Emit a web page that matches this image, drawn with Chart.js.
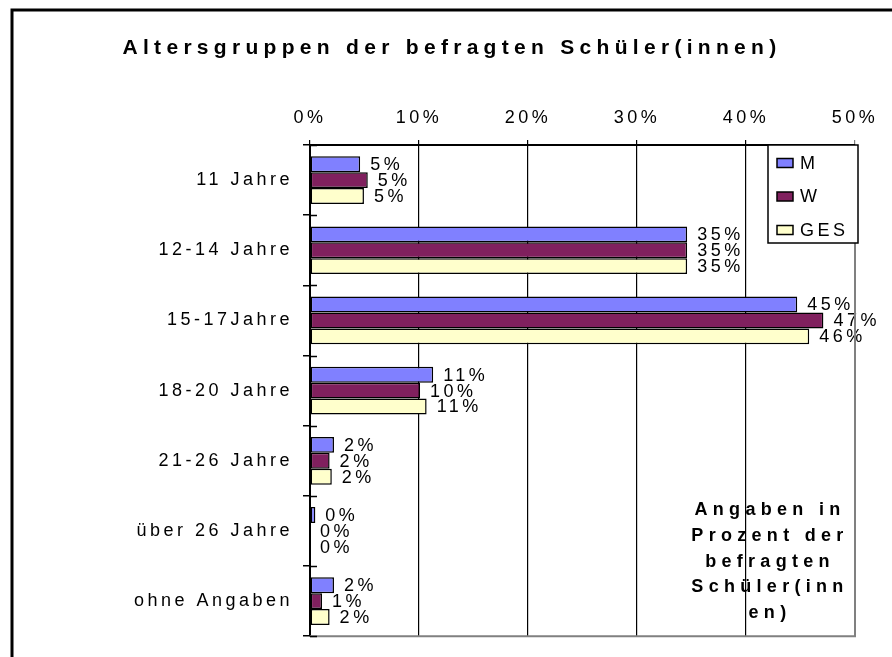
<!DOCTYPE html>
<html><head><meta charset="utf-8">
<script src="https://cdn.jsdelivr.net/npm/chart.js@4.4.1/dist/chart.umd.min.js"></script>
<style>html,body{margin:0;padding:0;background:#fff;overflow:hidden}#wrap{position:relative;width:892px;height:657px}</style>
</head><body><div id="wrap"><canvas id="c" width="892" height="657"></canvas></div>
<script>
const titleText = 'Altersgruppen der befragten Schüler(innen)';
const categories = ['11 Jahre', '12-14 Jahre', '15-17Jahre', '18-20 Jahre', '21-26 Jahre', 'über 26 Jahre', 'ohne Angaben'];
const seriesNames = ['M', 'W', 'GES'];
const valuesM = [4.6, 34.6, 44.7, 11.3, 2.2, 0.49, 2.2];
const valuesW = [5.3, 34.6, 47.1, 10.1, 1.8, 0, 1.1];
const valuesGES = [4.95, 34.6, 45.8, 10.7, 2.0, 0, 1.8];
const xTicks = [0, 10, 20, 30, 40, 50];
const noteLines = ['Angaben in', 'Prozent der', 'befragten', 'Schüler(inn', 'en)'];

const FAMILY = '"Liberation Sans", Arial, sans-serif';
const colors = ['#8080FF', '#80205E', '#FFFFCC'];
const SPACING = '3.5px';
const FS = 18;

Chart.defaults.color = '#000';
Chart.defaults.font.family = FAMILY;
Chart.defaults.font.size = FS;

const decor = {
  id: 'decor',
  beforeUpdate(chart) { chart.ctx.letterSpacing = SPACING; },
  beforeDraw(chart) {
    const ctx = chart.ctx;
    ctx.save();
    ctx.fillStyle = '#fff';
    ctx.fillRect(0, 0, chart.width, chart.height);
    ctx.strokeStyle = '#000';
    ctx.lineWidth = 3;
    ctx.beginPath();
    ctx.moveTo(12, chart.height);
    ctx.lineTo(12, 10);
    ctx.lineTo(chart.width, 10);
    ctx.stroke();
    ctx.restore();
    ctx.letterSpacing = SPACING;
  },
  afterDatasetsDraw(chart) {
    const ctx = chart.ctx;
    ctx.save();
    ctx.font = FS + 'px ' + FAMILY;
    ctx.letterSpacing = SPACING;
    ctx.fillStyle = '#000';
    ctx.textAlign = 'left';
    ctx.textBaseline = 'middle';
    chart.data.datasets.forEach((ds, di) => {
      const meta = chart.getDatasetMeta(di);
      meta.data.forEach((bar, i) => {
        const label = Math.round(ds.data[i]) + '%';
        ctx.fillText(label, bar.x + 10, bar.y + 1);
      });
    });
    ctx.restore();
  },
  afterDraw(chart) {
    const ctx = chart.ctx;
    const a = chart.chartArea;
    const ys = chart.scales.y;
    ctx.save();
    // grey plot border right / bottom
    ctx.strokeStyle = '#808080';
    ctx.lineWidth = 2;
    ctx.beginPath();
    ctx.moveTo(a.right, a.top);
    ctx.lineTo(a.right, a.bottom);
    ctx.lineTo(a.left, a.bottom);
    ctx.stroke();
    // inner half of category ticks
    ctx.strokeStyle = '#000';
    ctx.lineWidth = 1.5;
    const step = (ys.bottom - ys.top) / categories.length;
    ctx.beginPath();
    for (let i = 0; i <= categories.length; i++) {
      const y = Math.round(ys.top + i * step) + 0.5;
      ctx.moveTo(a.left, y);
      ctx.lineTo(a.left + 7, y);
    }
    ctx.stroke();
    // title
    ctx.fillStyle = '#000';
    ctx.textAlign = 'center';
    ctx.textBaseline = 'middle';
    ctx.font = 'bold 21px ' + FAMILY;
    ctx.letterSpacing = '5.3px';
    ctx.fillText(titleText, 452, 48);
    // legend
    const lx = 768, ly = 145, lw = 90, lh = 98;
    ctx.fillStyle = '#fff';
    ctx.fillRect(lx, ly, lw, lh);
    ctx.strokeStyle = '#000';
    ctx.lineWidth = 1.5;
    ctx.strokeRect(lx, ly, lw, lh);
    ctx.font = FS + 'px ' + FAMILY;
    ctx.letterSpacing = SPACING;
    ctx.textAlign = 'left';
    chart.data.datasets.forEach((ds, i) => {
      const cy = 163 + i * 33.5;
      ctx.fillStyle = ds.backgroundColor;
      ctx.fillRect(777, cy - 4.5, 16, 9);
      ctx.strokeRect(777, cy - 4.5, 16, 9);
      ctx.fillStyle = '#000';
      ctx.fillText(ds.label, 800, cy + 1);
    });
    // note
    ctx.font = 'bold 18px ' + FAMILY;
    ctx.letterSpacing = '5.3px';
    ctx.textAlign = 'center';
    noteLines.forEach((t, i) => ctx.fillText(t, 770, 510 + i * 25.8));
    ctx.restore();
  }
};

new Chart(document.getElementById('c'), {
  type: 'bar',
  data: {
    labels: categories,
    datasets: [
      { label: seriesNames[0], data: valuesM, backgroundColor: colors[0] },
      { label: seriesNames[1], data: valuesW, backgroundColor: colors[1] },
      { label: seriesNames[2], data: valuesGES, backgroundColor: colors[2] }
    ]
  },
  options: {
    indexAxis: 'y',
    responsive: false,
    animation: false,
    devicePixelRatio: 1,
    layout: { padding: { left: 0, top: 0, right: 37, bottom: 17 } },
    datasets: {
      bar: {
        borderColor: '#000',
        borderWidth: 1.5,
        borderSkipped: false,
        categoryPercentage: 0.68,
        barPercentage: 1
      }
    },
    plugins: { legend: { display: false }, title: { display: false }, tooltip: { enabled: false } },
    scales: {
      x: {
        position: 'top',
        min: 0,
        max: 50,
        afterBuildTicks(scale) { scale.ticks = xTicks.map(v => ({ value: v })); },
        afterFit(scale) { scale.height = 145; },
        ticks: { callback: v => v + '%', padding: 11, maxRotation: 0, autoSkip: false, color: '#000', font: { size: FS } },
        grid: {
          color: ctx => (ctx.tick && ctx.tick.value === 50) ? '#808080' : '#000',
          lineWidth: 1.2,
          tickLength: 5,
          drawTicks: true
        },
        border: { display: true, color: '#000', width: 2 }
      },
      y: {
        afterFit(scale) { scale.width = 310; },
        ticks: { padding: 10, color: '#000', font: { size: FS } },
        grid: { drawOnChartArea: false, color: '#000', tickLength: 7, lineWidth: 1.5, offset: true },
        border: { display: true, color: '#000', width: 2 }
      }
    }
  },
  plugins: [decor]
});
</script>
</body></html>
